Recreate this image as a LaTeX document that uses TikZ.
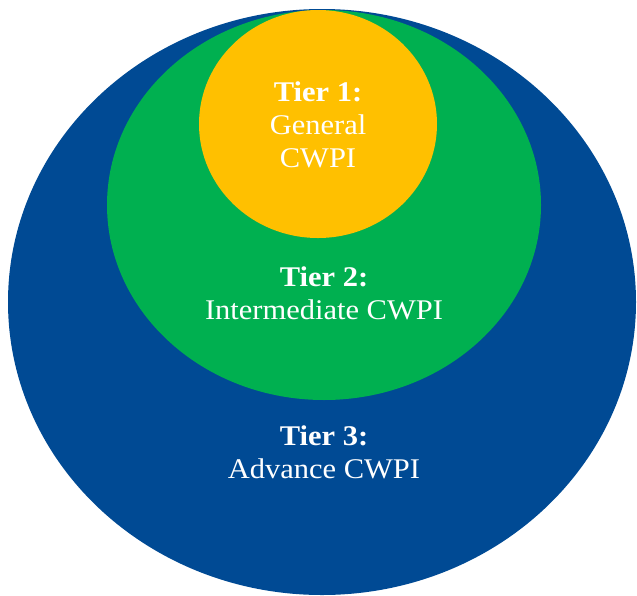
\documentclass[tikz,border=0pt]{standalone}
\usepackage{fontspec}
\setmainfont[FakeStretch=1.07]{Liberation Serif}
\definecolor{tblue}{HTML}{004A94}
\definecolor{tgreen}{HTML}{00B050}
\definecolor{tyellow}{HTML}{FFC000}
\tikzset{
  lbl/.style={text=white, font=\fontsize{28.5}{33}\selectfont, align=center, inner sep=0pt},
}
\begin{document}
\begin{tikzpicture}[x=1pt,y=-1pt]
\useasboundingbox (0,0) rectangle (637,595);
\fill[tblue] (322,302) ellipse [x radius=314, y radius=293];
\fill[tgreen] (324,205) ellipse [x radius=217, y radius=195];
\fill[tyellow] (318,124) ellipse [x radius=119, y radius=114];
\node[lbl] (t1) at (318,125) {\textbf{Tier 1:}\\General\\CWPI};
\node[lbl] (t2) at (324,293) {\textbf{Tier 2:}\\Intermediate CWPI};
\node[lbl] (t3) at (324,452) {\textbf{Tier 3:}\\Advance CWPI};
\end{tikzpicture}
\end{document}
